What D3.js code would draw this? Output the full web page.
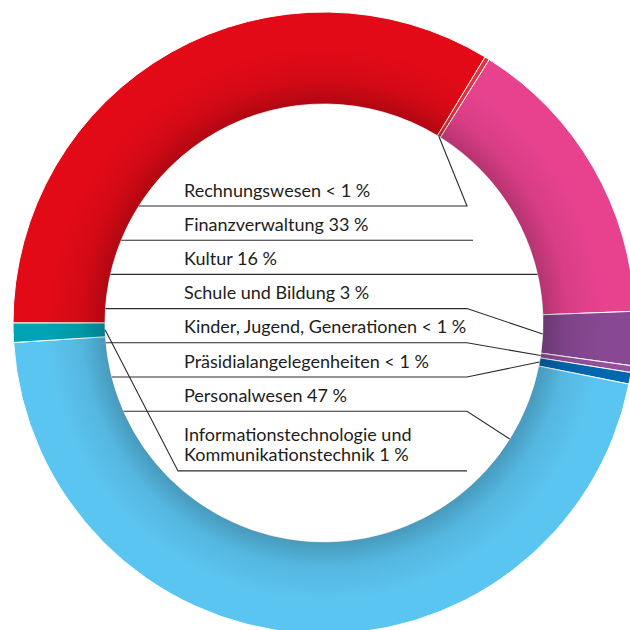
<!DOCTYPE html>
<html lang="de">
<head>
	<meta charset="UTF-8"/>
	<title>Anteile nach Bereich</title>
	<script src="https://d3js.org/d3.v7.min.js"></script>
	<style>
		body { margin: 0; background: #fff; }
		.label { font-family: Lato, "Open Sans", sans-serif; font-size: 18px; fill: #1d1d1b; }
		.rule { fill: none; stroke: #2b2b2b; stroke-width: 1.1; }
	</style>
</head>
<body>
	<div id="chart"></div>

	<script>
	// segments in clockwise order, starting at 9 o'clock
	var departments = ["Finanzverwaltung", "Rechnungswesen", "Kultur", "Schule und Bildung",
		"Kinder, Jugend, Generationen", "Präsidialangelegenheiten", "Personalwesen",
		"Informationstechnologie und Kommunikationstechnik"];
	var shares = [33.7, 0.25, 15.5, 2.8, 0.35, 0.6, 45.9, 1.0];
	var shareText = ["33 %", "< 1 %", "16 %", "3 %", "< 1 %", "< 1 %", "47 %", "1 %"];
	var colors = ["#e30a17", "#e4313a", "#e8428f", "#884893", "#93519a", "#0068b0", "#5bc5f1", "#00a3b4"];

	// order of the labels, top to bottom (index into departments)
	var labelOrder = [1, 0, 2, 3, 4, 5, 6, 7];

	var w = 630, h = 630;
	var cx = 324, cy = 323;
	var rOuter = 311, rInner = 219;

	var svg = d3.select("#chart").append("svg")
		.attr("width", w)
		.attr("height", h);

	var grad = svg.append("defs").append("radialGradient")
		.attr("id", "innerShade")
		.attr("gradientUnits", "userSpaceOnUse")
		.attr("cx", 0).attr("cy", 0).attr("r", rOuter);
	grad.append("stop").attr("offset", rInner / rOuter).attr("stop-color", "#000").attr("stop-opacity", 0.22);
	grad.append("stop").attr("offset", (rInner + 25) / rOuter).attr("stop-color", "#000").attr("stop-opacity", 0.07);
	grad.append("stop").attr("offset", (rInner + 60) / rOuter).attr("stop-color", "#000").attr("stop-opacity", 0);

	var pie = d3.pie()
		.sort(null)
		.value(function(d){ return d; })
		.startAngle(-Math.PI / 2)
		.endAngle(Math.PI * 1.5);

	var arcs = pie(shares);

	var arc = d3.arc()
		.innerRadius(rInner)
		.outerRadius(rOuter);

	var g = svg.append("g")
		.attr("transform", "translate(" + cx + "," + cy + ")");

	g.selectAll("path.slice")
		.data(arcs)
		.enter()
		.append("path")
		.attr("class", "slice")
		.attr("d", arc)
		.attr("fill", function(d, i){ return colors[i]; })
		.attr("stroke", "#fff")
		.attr("stroke-width", 1);

	// soft shadow along the inner edge
	g.append("path")
		.attr("d", arc({startAngle: 0, endAngle: 2 * Math.PI}))
		.attr("fill", "url(#innerShade)");

	// point on the inner edge at a given angle (radians, clockwise from top)
	function inner(a) {
		return [cx + rInner * Math.sin(a), cy - rInner * Math.cos(a)];
	}
	function chordLeft(y) {
		return cx - Math.sqrt(rInner * rInner - (y - cy) * (y - cy));
	}
	function chordRight(y) {
		return cx + Math.sqrt(rInner * rInner - (y - cy) * (y - cy));
	}
	function midAngle(i) {
		return (arcs[i].startAngle + arcs[i].endAngle) / 2;
	}

	var rowY = d3.scaleLinear().domain([0, 1]).range([206, 240.2]);
	var textX = 184, elbowX = 467;
	var line = d3.line();

	labelOrder.forEach(function(di, row){
		var y = row < 7 ? rowY(row) : rowY(7) + 25.5;
		if (di === 7) {
			svg.append("text").attr("class", "label").attr("x", textX).attr("y", y - 29.5)
				.text("Informationstechnologie und");
			svg.append("text").attr("class", "label").attr("x", textX).attr("y", y - 9.5)
				.text("Kommunikationstechnik " + shareText[di]);
		} else {
			svg.append("text").attr("class", "label").attr("x", textX).attr("y", y - 9.5)
				.text(departments[di] + " " + shareText[di]);
		}

		var pts;
		if (di === 0) {
			pts = [[chordLeft(y), y], [473, y]];
		} else if (di === 2) {
			pts = [[chordLeft(y), y], [chordRight(y), y]];
		} else if (di === 7) {
			pts = [inner(midAngle(di)), [178, y], [elbowX, y]];
		} else if (di === 6) {
			pts = [[chordLeft(y), y], [elbowX, y], inner(122 * Math.PI / 180)];
		} else {
			pts = [[chordLeft(y), y], [elbowX, y], inner(midAngle(di))];
		}
		svg.append("path")
			.attr("class", "rule")
			.attr("d", line(pts));
	});
	</script>
</body>
</html>
